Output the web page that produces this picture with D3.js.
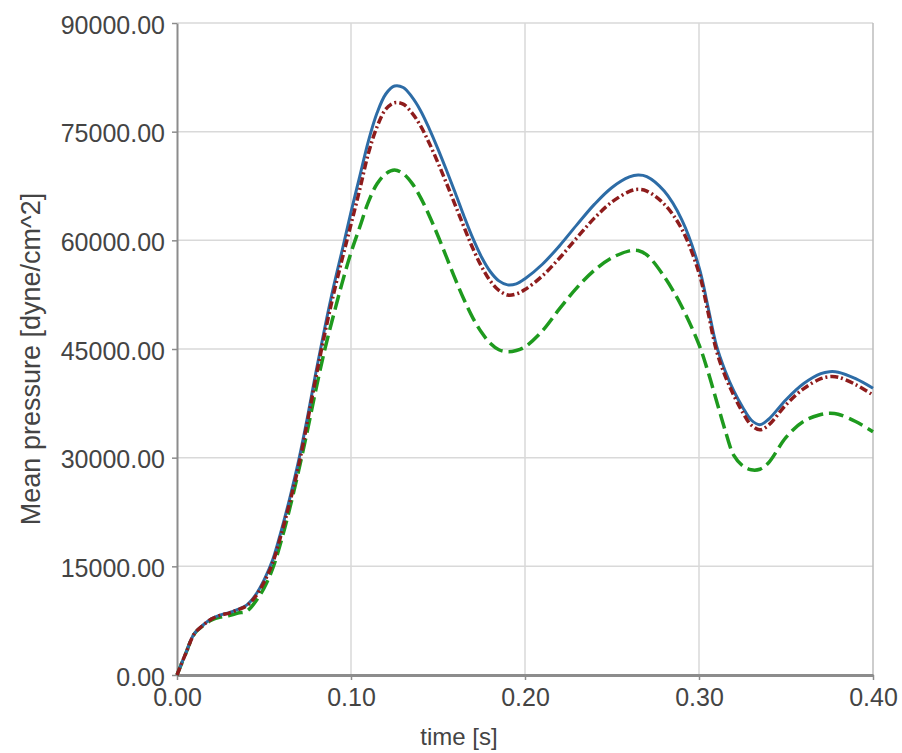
<!DOCTYPE html>
<html>
<head>
<meta charset="utf-8">
<script src="https://cdn.jsdelivr.net/npm/d3@7"></script>
<style>
  body { margin: 0; background: #fff; }
  svg { display: block; font-family: "Liberation Sans", Arial, sans-serif; }
</style>
</head>
<body>
<svg id="chart"></svg>
<script>
// time samples [s]
const time = [0, 0.005, 0.01, 0.015, 0.02, 0.025, 0.03, 0.035, 0.04, 0.045, 0.05, 0.055, 0.06, 0.065,
  0.07, 0.075, 0.08, 0.085, 0.09, 0.095, 0.10, 0.105, 0.11, 0.115, 0.12, 0.125, 0.13, 0.135, 0.14,
  0.145, 0.15, 0.155, 0.16, 0.165, 0.17, 0.175, 0.18, 0.185, 0.19, 0.195, 0.20, 0.21, 0.22, 0.23,
  0.24, 0.25, 0.26, 0.265, 0.27, 0.28, 0.29, 0.30, 0.305, 0.31, 0.315, 0.32, 0.325, 0.33, 0.335, 0.34,
  0.35, 0.36, 0.37, 0.375, 0.38, 0.39, 0.40];

// mean pressure [dyne/cm^2]
const bluePressure = [0, 3000, 5750, 6900, 7800, 8300, 8600, 9050, 9650, 11000, 13100, 15900, 20000, 24600,
  29700, 35600, 42000, 48000, 53600, 58700, 63900, 68800, 73700, 77600, 80200, 81300, 81100, 79800, 77900,
  75400, 72600, 69600, 66500, 63300, 60300, 57700, 55700, 54400, 53850, 54000, 54700, 56700, 59300, 62200,
  65000, 67300, 68750, 69020, 68800, 66800, 62900, 56300, 51000, 45500, 42000, 39200, 37000, 35200, 34550, 35300,
  38000, 40200, 41600, 41870, 41800, 40900, 39580];

const redPressure = [0, 2950, 5700, 6850, 7750, 8250, 8550, 9000, 9550, 10800, 12800, 15500, 19500, 24000,
  29000, 35000, 41300, 47200, 52600, 57500, 62200, 67000, 72000, 75700, 78100, 79000, 78800, 77600, 75800,
  73400, 70700, 67800, 64800, 61800, 58900, 56400, 54400, 53100, 52460, 52600, 53200, 55100, 57600, 60400,
  63100, 65300, 66750, 67040, 66800, 65000, 61600, 55500, 50300, 44800, 41300, 38600, 36300, 34500, 33850, 34500,
  37300, 39500, 40900, 41180, 41100, 40100, 38650];

const greenPressure = [0, 2950, 5700, 6800, 7600, 8000, 8200, 8550, 8800, 10100, 12000, 14700, 18600, 23200,
  28300, 33800, 39600, 45000, 49700, 54200, 58300, 61800, 65300, 67800, 69200, 69700, 69200, 67900, 65900,
  63400, 60600, 57600, 54600, 51800, 49300, 47300, 45800, 44900, 44630, 44800, 45300, 47500, 50600, 53500,
  55900, 57600, 58550, 58600, 58000, 55000, 50900, 45600, 42000, 37900, 33800, 30300, 28900, 28320, 28400, 29300,
  32800, 35000, 35950, 36120, 36000, 35000, 33590];

const xTicks = [0, 0.1, 0.2, 0.3, 0.4];
const yTicks = [0, 15000, 30000, 45000, 60000, 75000, 90000];

const width = 902;
const height = 753;
const margin = { top: 23, right: 29, bottom: 78, left: 177 };

const svg = d3.select("#chart")
  .attr("width", width)
  .attr("height", height);

const x = d3.scaleLinear()
  .domain([0, 0.4])
  .range([margin.left, width - margin.right]);

const y = d3.scaleLinear()
  .domain([0, 90000])
  .range([height - margin.bottom, margin.top]);

// grid
svg.append("g")
  .selectAll("line")
  .data(yTicks.slice(1))
  .join("line")
  .attr("x1", x(0)).attr("x2", x(0.4))
  .attr("y1", d => y(d)).attr("y2", d => y(d))
  .attr("stroke", "#d9d9d9")
  .attr("stroke-width", 1.5);

svg.append("g")
  .selectAll("line")
  .data(xTicks.slice(1))
  .join("line")
  .attr("x1", d => x(d)).attr("x2", d => x(d))
  .attr("y1", y(0)).attr("y2", y(90000))
  .attr("stroke", d => d === 0.4 ? "#bdbdbd" : "#d9d9d9")
  .attr("stroke-width", 1.5);

// axes
const yAxis = svg.append("g")
  .attr("transform", `translate(${x(0)},0)`)
  .call(d3.axisLeft(y).tickValues(yTicks).tickFormat(d3.format(".2f"))
    .tickSize(5).tickSizeOuter(0).tickPadding(7));

const xAxis = svg.append("g")
  .attr("transform", `translate(0,${y(0)})`)
  .call(d3.axisBottom(x).tickValues(xTicks).tickFormat(d3.format(".2f"))
    .tickSize(5).tickSizeOuter(0).tickPadding(8));

yAxis.select(".domain").attr("stroke", "#8c8c8c").attr("stroke-width", 2);
xAxis.select(".domain").attr("stroke", "#8c8c8c").attr("stroke-width", 3);
svg.selectAll(".tick line").attr("stroke", "#8c8c8c").attr("stroke-width", 1.5);
svg.selectAll(".tick text")
  .attr("fill", "#444")
  .style("font-size", "25px");
yAxis.selectAll(".tick text").attr("dy", "0.4em");

// axis titles
svg.append("text")
  .attr("x", 459)
  .attr("y", 745)
  .attr("text-anchor", "middle")
  .attr("fill", "#444")
  .style("font-size", "24px")
  .text("time [s]");

svg.append("text")
  .attr("transform", "translate(40,359) rotate(-90)")
  .attr("text-anchor", "middle")
  .attr("fill", "#444")
  .style("font-size", "27px")
  .text("Mean pressure [dyne/cm^2]");

// lines
const line = values => d3.line()
  .x((d, i) => x(time[i]))
  .y(d => y(d))
  .curve(d3.curveCatmullRom.alpha(0.5))(values);

svg.append("path")
  .attr("d", line(greenPressure))
  .attr("fill", "none")
  .attr("stroke", "#1e9a1e")
  .attr("stroke-width", 3.5)
  .attr("stroke-dasharray", "15,6");

svg.append("path")
  .attr("d", line(bluePressure))
  .attr("fill", "none")
  .attr("stroke", "#2d6ca6")
  .attr("stroke-width", 3);

svg.append("path")
  .attr("d", line(redPressure))
  .attr("fill", "none")
  .attr("stroke", "#8e1c1c")
  .attr("stroke-width", 3.5)
  .attr("stroke-dasharray", "8,3,2,3");
</script>
</body>
</html>
